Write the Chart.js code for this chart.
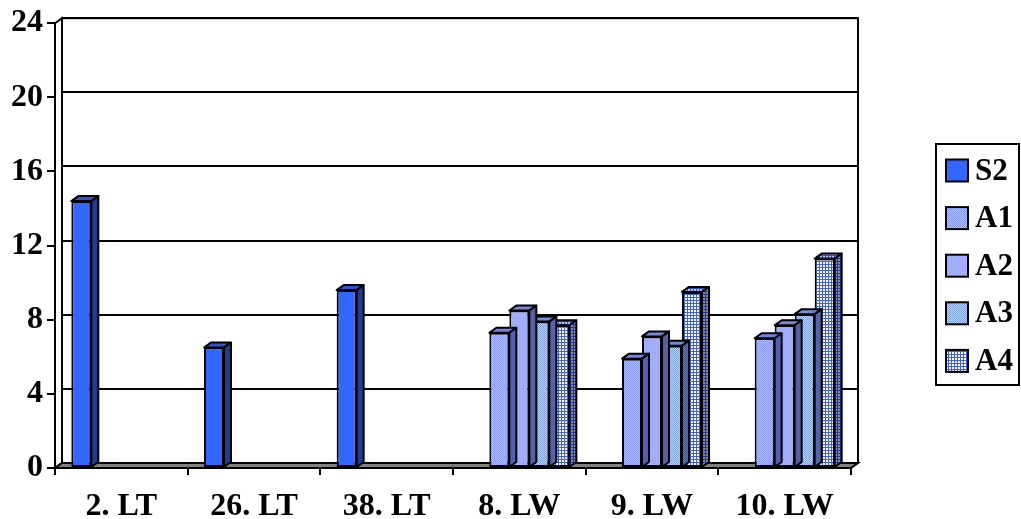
<!DOCTYPE html>
<html>
<head>
<meta charset="utf-8">
<script src="https://cdn.jsdelivr.net/npm/chart.js@4"></script>
<style>
  html, body { margin: 0; padding: 0; background: #fff; }
  #wrap { width: 1021px; height: 519px; }
</style>
</head>
<body>
<div id="wrap"><canvas id="chart" width="1021" height="519"></canvas></div>
<script>
// Sample sites and measured values per series
const categories = ['2. LT', '26. LT', '38. LT', '8. LW', '9. LW', '10. LW'];
const seriesNames = ['S2', 'A1', 'A2', 'A3', 'A4'];
const s2Values = [14.4, 6.5, 9.6, null, null, null];
const a1Values = [null, null, null, 7.3, 5.9, 7.0];
const a2Values = [null, null, null, 8.5, 7.1, 7.7];
const a3Values = [null, null, null, 7.9, 6.6, 8.3];
const a4Values = [null, null, null, 7.7, 9.5, 11.3];
const yTickValues = [0, 4, 8, 12, 16, 20, 24];

const FONT = 'Liberation Serif, "Times New Roman", serif';
const DX = 7, DY = -5; // depth offset of the 3D walls and bar extrusions

// Build a small repeating fill, optionally darkened for side / top faces
function makeFill(size, paint, shade) {
  const c = document.createElement('canvas');
  c.width = size; c.height = size;
  const g = c.getContext('2d');
  paint(g, size);
  if (shade) { g.fillStyle = shade; g.fillRect(0, 0, size, size); }
  return g.createPattern(c, 'repeat');
}
const painters = [
  (g, s) => { g.fillStyle = '#3366ff'; g.fillRect(0, 0, s, s); },
  (g, s) => { g.fillStyle = '#b6c1ff'; g.fillRect(0, 0, s, s);
              g.fillStyle = '#8396ff'; g.fillRect(0, 0, 1, 1); g.fillRect(1, 1, 1, 1); },
  (g, s) => { g.fillStyle = '#9babff'; g.fillRect(0, 0, s, s);
              g.fillStyle = '#a6b4ff'; g.fillRect(0, 0, 1, 1); },
  (g, s) => { g.fillStyle = '#b4d6ff'; g.fillRect(0, 0, s, s);
              g.fillStyle = '#7d9fe6'; g.fillRect(0, 0, 1, 1); g.fillRect(1, 1, 1, 1); },
  (g, s) => { g.fillStyle = '#ffffff'; g.fillRect(0, 0, s, s);
              g.fillStyle = '#3a5cff'; g.fillRect(0, 0, s, 1); g.fillRect(0, 0, 1, s); }
];
const tileSizes = [2, 2, 2, 2, 3];
const frontFills = painters.map((p, i) => makeFill(tileSizes[i], p, null));
const topFills = painters.map((p, i) => makeFill(tileSizes[i], p, 'rgba(10,20,80,0.25)'));
const sideFills = painters.map((p, i) => makeFill(tileSizes[i], p, 'rgba(10,20,80,0.5)'));
sideFills[0] = '#203c93';
topFills[0] = '#2c54d0';

const valueLists = [s2Values, a1Values, a2Values, a3Values, a4Values];

// Back wall, side wall, floor and the extruded faces of each bar
const depthPlugin = {
  id: 'depth',
  beforeDatasetsDraw(chart) {
    const { ctx, chartArea: a, scales: { y } } = chart;
    ctx.save();
    ctx.lineWidth = 2;
    ctx.strokeStyle = '#000';
    ctx.fillStyle = '#fff';
    // left wall
    ctx.beginPath();
    ctx.moveTo(a.left, a.bottom); ctx.lineTo(a.left, a.top);
    ctx.lineTo(a.left + DX, a.top + DY); ctx.lineTo(a.left + DX, a.bottom + DY);
    ctx.closePath(); ctx.fill(); ctx.stroke();
    // back wall frame
    ctx.strokeRect(a.left + DX, a.top + DY, a.right - a.left, a.bottom - a.top);
    // gridlines on the back wall
    yTickValues.forEach(v => {
      const py = Math.round(y.getPixelForValue(v) + DY);
      ctx.beginPath();
      ctx.moveTo(a.left + DX, py); ctx.lineTo(a.right + DX, py);
      ctx.stroke();
    });
    // floor
    ctx.fillStyle = '#808080';
    ctx.beginPath();
    ctx.moveTo(a.left, a.bottom); ctx.lineTo(a.right, a.bottom);
    ctx.lineTo(a.right + DX, a.bottom + DY); ctx.lineTo(a.left + DX, a.bottom + DY);
    ctx.closePath(); ctx.fill(); ctx.stroke();
    ctx.restore();
  },
  afterDatasetDraw(chart, args) {
    const { ctx } = chart;
    const i = args.index;
    const vals = valueLists[i];
    ctx.save();
    ctx.lineWidth = 2;
    ctx.strokeStyle = '#000';
    ctx.lineJoin = 'round';
    args.meta.data.forEach((el, k) => {
      if (vals[k] === null || vals[k] === undefined) return;
      const { x, y, base, width } = el.getProps(['x', 'y', 'base', 'width'], true);
      const l = x - width / 2, r = x + width / 2;
      // top face
      ctx.fillStyle = topFills[i];
      ctx.beginPath();
      ctx.moveTo(l, y); ctx.lineTo(r, y); ctx.lineTo(r + DX, y + DY); ctx.lineTo(l + DX, y + DY);
      ctx.closePath(); ctx.fill(); ctx.stroke();
      // right side face
      ctx.fillStyle = sideFills[i];
      ctx.beginPath();
      ctx.moveTo(r, y); ctx.lineTo(r + DX, y + DY); ctx.lineTo(r + DX, base + DY); ctx.lineTo(r, base);
      ctx.closePath(); ctx.fill(); ctx.stroke();
    });
    ctx.restore();
  },
  afterDraw(chart) {
    const { ctx } = chart;
    ctx.save();
    // legend box
    ctx.lineWidth = 2;
    ctx.strokeStyle = '#000';
    ctx.strokeRect(936, 144, 83, 241);
    ctx.font = 'bold 31px ' + FONT;
    ctx.textBaseline = 'middle';
    ctx.textAlign = 'left';
    seriesNames.forEach((name, i) => {
      const cy = 170.5 + i * 47.6;
      ctx.fillStyle = frontFills[i];
      ctx.fillRect(946, cy - 11, 22, 22);
      ctx.strokeRect(946, cy - 11, 22, 22);
      ctx.fillStyle = '#000';
      ctx.fillText(name, 975, cy + 1);
    });
    ctx.restore();
  }
};

const tickFont = { family: FONT, size: 32, weight: 'bold' };

new Chart(document.getElementById('chart'), {
  type: 'bar',
  data: {
    labels: categories,
    datasets: seriesNames.map((name, i) => ({
      label: name,
      data: valueLists[i],
      backgroundColor: frontFills[i],
      borderColor: '#000',
      borderWidth: 2,
      borderSkipped: false,
      categoryPercentage: 0.754,
      barPercentage: 1.0
    }))
  },
  options: {
    responsive: false,
    animation: false,
    layout: { padding: { left: 0, top: 23, right: 170, bottom: 0 } },
    plugins: { legend: { display: false }, tooltip: { enabled: false } },
    scales: {
      x: {
        grid: { display: true, drawOnChartArea: false, drawTicks: true, tickLength: 7,
                color: '#000', lineWidth: 2, offset: true },
        border: { display: true, color: '#000', width: 2 },
        ticks: { font: tickFont, color: '#000', padding: 13, maxRotation: 0, autoSkip: false },
        afterFit: s => { s.height = 51; }
      },
      y: {
        min: 0, max: 24,
        afterBuildTicks: s => { s.ticks = yTickValues.map(v => ({ value: v })); },
        grid: { display: true, drawOnChartArea: false, drawTicks: true, tickLength: 8,
                color: '#000', lineWidth: 2 },
        border: { display: true, color: '#000', width: 2 },
        ticks: { font: tickFont, color: '#000', padding: 4 },
        afterFit: s => { s.width = 55; }
      }
    }
  },
  plugins: [depthPlugin]
});
</script>
</body>
</html>
